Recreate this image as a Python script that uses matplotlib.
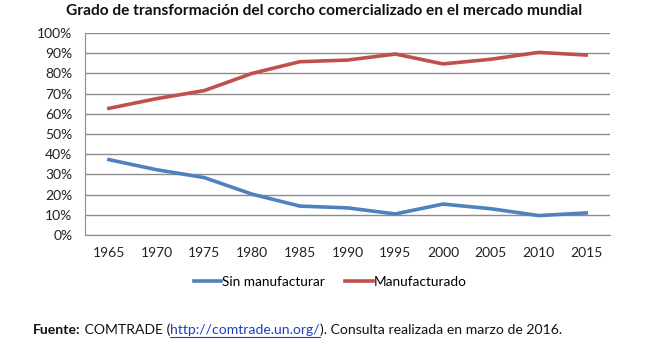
import numpy as np
import matplotlib
matplotlib.use('Agg')
import matplotlib.pyplot as plt
from matplotlib.ticker import PercentFormatter

plt.rcParams['font.family'] = ['Lato', 'DejaVu Sans']

years = ['1965', '1970', '1975', '1980', '1985', '1990',
         '1995', '2000', '2005', '2010', '2015']
manufacturado = [62.7, 67.5, 71.5, 80.0, 85.8, 86.6,
                 89.6, 84.7, 87.0, 90.4, 89.1]
sin_manufacturar = [37.3, 32.3, 28.4, 20.2, 14.3, 13.4,
                    10.4, 15.3, 13.0, 9.6, 10.9]

title = 'Grado de transformación del corcho comercializado en el mercado mundial'

fig = plt.figure(figsize=(6.49, 3.44), dpi=100)
ax = fig.add_axes([0.131, 0.317, 0.809, 0.587])

x = np.arange(len(years))
ax.plot(x, sin_manufacturar, color='#4F81BD', lw=2.6, label='Sin manufacturar')
ax.plot(x, manufacturado, color='#C0504D', lw=2.6, label='Manufacturado')

ax.set_xlim(-0.5, len(years) - 0.5)
ax.set_ylim(0, 100)
ax.set_yticks(np.arange(0, 101, 10))
ax.yaxis.set_major_formatter(PercentFormatter(decimals=0))
ax.set_xticks(x)
ax.set_xticklabels(years)
ax.tick_params(length=0, labelsize=10, colors='#222222')
ax.tick_params(axis='x', pad=9)
ax.tick_params(axis='y', pad=9)
ax.grid(axis='y', color='#8c8c8c', lw=1)
ax.set_axisbelow(True)
for s in ['top', 'right']:
    ax.spines[s].set_visible(False)
ax.spines['left'].set_color('#8c8c8c')
ax.spines['bottom'].set_color('#8c8c8c')

fig.text(0.5, 0.968, title, ha='center', va='center',
         fontsize=11.2, fontweight='bold', color='#111111')

fig.legend(loc='center', bbox_to_anchor=(0.509, 0.18), ncol=2, frameon=False,
           fontsize=9.8, handlelength=2.0, handletextpad=0.1,
           columnspacing=1.5)

# footnote in pieces
fig.canvas.draw()
r = fig.canvas.get_renderer()
xpos = 33 / 649
ypos = 0.028
parts = [('Fuente:', 'bold', '#111111', False),
         ('\u00a0COMTRADE (', 'normal', '#111111', False),
         ('http://comtrade.un.org/', 'normal', '#1F3FBF', True),
         ('). Consulta realizada en marzo de 2016.', 'normal', '#111111', False)]
for txt, wt, col, url in parts:
    t = fig.text(xpos, ypos, txt, fontsize=10.1, fontweight=wt, color=col,
                 ha='left', va='baseline')
    bb = t.get_window_extent(renderer=r)
    if url:
        fig.add_artist(plt.Line2D([bb.x0 / 649, bb.x1 / 649],
                                  [ypos - 0.008, ypos - 0.008],
                                  color=col, lw=0.8))
    xpos = bb.x1 / 649

fig.savefig('out.png', dpi=100)
